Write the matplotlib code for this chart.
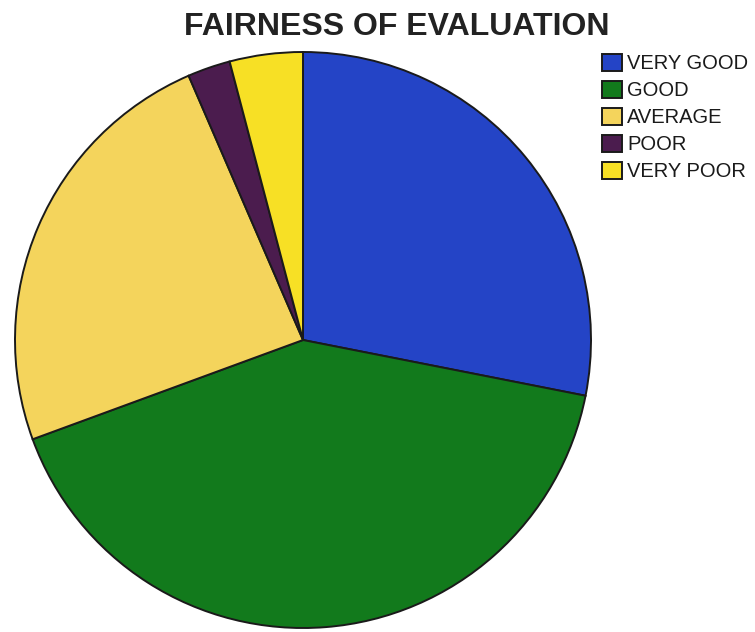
import matplotlib.pyplot as plt

plt.rcParams["font.family"] = ["Liberation Sans", "DejaVu Sans"]

# --- Data (share of responses) ---
categories = ["VERY GOOD", "GOOD", "AVERAGE", "POOR", "VERY POOR"]
shares = [28.1, 41.3, 24.1, 2.4, 4.1]
colors = ["#2444c6", "#127a1c", "#f4d45c", "#4b1c4e", "#f7e025"]

W, H = 755, 632
fig = plt.figure(figsize=(W / 100, H / 100), dpi=100)

# pie centre (303, 340) px, radius 288 px
cx, cy, r = 303, 340, 288
ax = fig.add_axes([(cx - r) / W, (H - cy - r) / H, 2 * r / W, 2 * r / H])
wedges, _ = ax.pie(shares, colors=colors, startangle=90, counterclock=False,
                   radius=1.0, wedgeprops=dict(edgecolor="#1a1a1a", linewidth=1.4))
ax.set_xlim(-1.0, 1.0)
ax.set_ylim(-1.0, 1.0)
ax.set_aspect("equal")
ax.axis("off")

fig.text(397 / W, 1 - 27 / H, "FAIRNESS OF EVALUATION", ha="center", va="center",
         fontsize=23, fontweight="bold", color="#222222")

leg = fig.legend(wedges, categories, loc="upper left",
                 bbox_to_anchor=(602 / W, 1 - 54 / H), frameon=False,
                 fontsize=14.5, handlelength=1.0, handleheight=0.9,
                 handletextpad=0.25, labelspacing=0.38, borderaxespad=0,
                 borderpad=0)
for t in leg.get_texts():
    t.set_color("#1a1a1a")

fig.savefig("out.png", dpi=100)
